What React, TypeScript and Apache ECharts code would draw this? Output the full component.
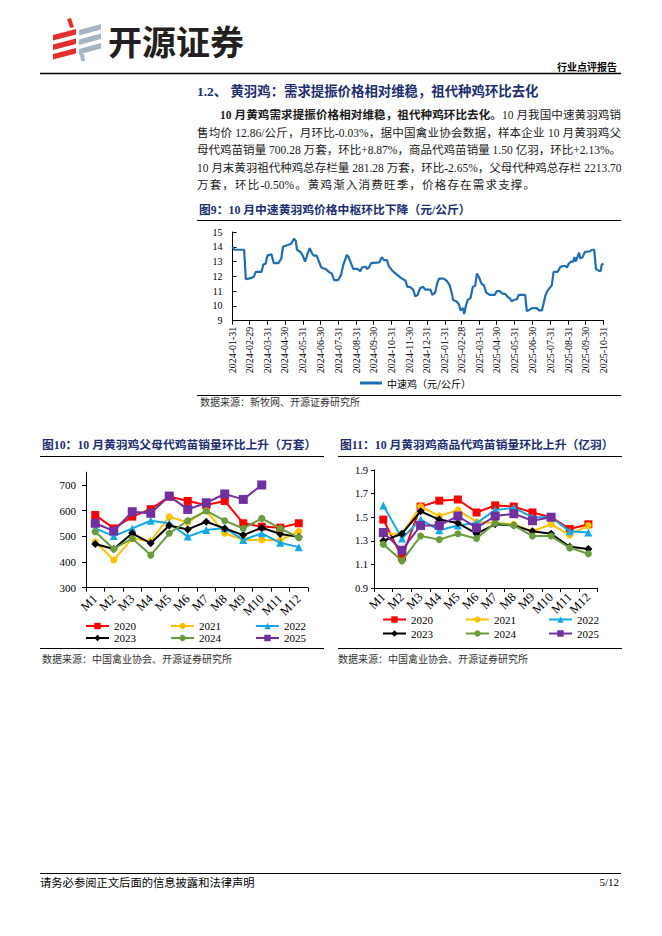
import React, { useEffect, useRef } from "react";
import * as echarts from "echarts";

// ---------- Figure 9: price of medium-speed yellow-feather broiler (元/公斤) ----------
const priceDates = [
  "2024-01-31", "2024-02-03", "2024-02-20", "2024-02-23", "2024-03-04", "2024-03-08", "2024-03-11", "2024-03-21",
  "2024-03-24", "2024-03-28", "2024-03-31", "2024-04-07", "2024-04-11", "2024-04-19", "2024-04-24", "2024-04-27",
  "2024-05-04", "2024-05-11", "2024-05-16", "2024-05-19", "2024-05-21", "2024-05-27", "2024-05-31", "2024-06-04",
  "2024-06-08", "2024-06-12", "2024-06-16", "2024-06-19", "2024-06-24", "2024-06-28", "2024-07-02", "2024-07-09",
  "2024-07-15", "2024-07-20", "2024-07-24", "2024-07-31", "2024-08-05", "2024-08-09", "2024-08-15", "2024-08-18",
  "2024-08-22", "2024-08-26", "2024-09-02", "2024-09-07", "2024-09-10", "2024-09-16", "2024-09-19", "2024-09-22",
  "2024-09-26", "2024-10-10", "2024-10-14", "2024-10-18", "2024-10-23", "2024-10-26", "2024-11-01", "2024-11-05",
  "2024-11-10", "2024-11-16", "2024-11-24", "2024-11-27", "2024-12-03", "2024-12-07", "2024-12-11", "2024-12-15",
  "2024-12-19", "2024-12-24", "2024-12-28", "2025-01-06", "2025-01-09", "2025-01-14", "2025-01-18", "2025-01-21",
  "2025-01-29", "2025-02-03", "2025-02-08", "2025-02-12", "2025-02-14", "2025-02-20", "2025-02-24", "2025-02-27",
  "2025-03-03", "2025-03-05", "2025-03-08", "2025-03-11", "2025-03-16", "2025-03-20", "2025-03-24", "2025-03-27",
  "2025-03-31", "2025-04-04", "2025-04-08", "2025-04-12", "2025-04-18", "2025-04-27", "2025-04-30", "2025-05-06",
  "2025-05-09", "2025-05-15", "2025-05-19", "2025-05-23", "2025-05-26", "2025-05-29", "2025-06-04", "2025-06-07",
  "2025-06-18", "2025-06-21", "2025-06-24", "2025-06-30", "2025-07-08", "2025-07-12", "2025-07-17", "2025-07-20",
  "2025-07-23", "2025-07-26", "2025-07-30", "2025-08-03", "2025-08-06", "2025-08-13", "2025-08-17", "2025-08-21",
  "2025-08-26", "2025-08-29", "2025-09-01", "2025-09-05", "2025-09-09", "2025-09-11", "2025-09-13", "2025-09-17",
  "2025-09-19", "2025-09-21", "2025-09-25", "2025-09-29", "2025-10-08", "2025-10-11", "2025-10-15", "2025-10-18",
  "2025-10-22", "2025-10-26", "2025-10-28", "2025-10-31",
];
const priceValues = [
  14.0, 13.8, 13.8, 11.8, 11.9, 12.0, 12.3, 12.3,
  12.8, 12.85, 13.4, 13.5, 12.9, 12.9, 13.2, 14.0,
  14.1, 14.2, 14.55, 14.4, 13.8, 13.65, 13.4, 13.0,
  13.5, 13.9, 13.55, 13.4, 13.4, 13.0, 12.6, 12.5,
  12.3, 12.2, 11.75, 11.75, 12.1, 12.8, 13.45, 13.3,
  12.9, 12.5, 12.5, 12.35, 12.6, 12.65, 12.5, 12.6,
  12.9, 12.95, 13.3, 13.1, 13.1, 12.7, 12.4, 12.25,
  12.1, 11.9, 11.7, 11.3, 11.25, 11.1, 10.65, 10.75,
  11.2, 11.3, 11.1, 11.1, 10.75, 10.9, 11.6, 11.85,
  11.85, 11.7, 11.4, 10.8, 10.4, 10.3, 10.1, 9.7,
  9.85, 9.45, 10.0, 10.4, 10.55, 11.3, 11.35, 12.2,
  11.9, 11.5, 11.4, 10.9, 10.75, 10.75, 11.0, 11.0,
  10.85, 10.8, 10.6, 10.5, 10.3, 10.4, 10.45, 10.75,
  10.75, 9.65, 9.7, 9.85, 9.85, 9.7, 9.7, 10.2,
  10.7, 11.0, 11.2, 11.4, 12.3, 12.3, 12.6, 12.7,
  12.7, 12.6, 12.85, 13.0, 13.0, 13.3, 13.0, 13.4,
  13.6, 13.2, 13.3, 13.65, 13.7, 13.8, 13.8, 12.5,
  12.4, 12.35, 12.8, 12.86,
];
const priceTickDates = [
  "2024-01-31", "2024-02-29", "2024-03-31", "2024-04-30", "2024-05-31", "2024-06-30", "2024-07-31", "2024-08-31",
  "2024-09-30", "2024-10-31", "2024-11-30", "2024-12-31", "2025-01-31", "2025-02-28", "2025-03-31", "2025-04-30",
  "2025-05-31", "2025-06-30", "2025-07-31", "2025-08-31", "2025-09-30", "2025-10-31",
];
const priceSeriesName = "中速鸡（元/公斤）";
const priceYTicks = [9, 10, 11, 12, 13, 14, 15];

// ---------- Figures 10 & 11 ----------
const months = ["M1", "M2", "M3", "M4", "M5", "M6", "M7", "M8", "M9", "M10", "M11", "M12"];
const yearNames = ["2020", "2021", "2022", "2023", "2024", "2025"];

// 父母代鸡苗销量（万套）
const parent2020 = [583, 531, 577, 606, 655, 638, 622, 638, 551, 538, 534, 551];
const parent2021 = [479, 408, 492, 482, 576, 555, 600, 512, 487, 486, 484, 519];
const parent2022 = [531, 501, 531, 561, 551, 499, 525, 533, 486, 512, 475, 458];
const parent2023 = [470, 451, 512, 473, 542, 527, 557, 531, 505, 534, 509, 498];
const parent2024 = [518, 451, 492, 427, 512, 561, 599, 561, 531, 570, 531, 495];
const parent2025 = [551, 521, 596, 590, 657, 605, 631, 665, 644, 700.28];
const parentYTicks = [300, 400, 500, 600, 700];

// 商品代鸡苗销量（亿羽）
const comm2020 = [1.48, 1.16, 1.59, 1.64, 1.65, 1.54, 1.6, 1.59, 1.54, 1.5, 1.4, 1.44];
const comm2021 = [1.36, 1.36, 1.59, 1.51, 1.56, 1.46, 1.45, 1.44, 1.38, 1.44, 1.35, 1.43];
const comm2022 = [1.6, 1.32, 1.48, 1.39, 1.43, 1.45, 1.56, 1.58, 1.5, 1.5, 1.38, 1.37];
const comm2023 = [1.3, 1.36, 1.55, 1.48, 1.45, 1.36, 1.44, 1.43, 1.38, 1.36, 1.25, 1.23];
const comm2024 = [1.27, 1.13, 1.34, 1.31, 1.36, 1.32, 1.45, 1.43, 1.34, 1.34, 1.24, 1.19];
const comm2025 = [1.37, 1.22, 1.43, 1.43, 1.51, 1.41, 1.51, 1.53, 1.47, 1.5];
const commYTicks = [0.9, 1.1, 1.3, 1.5, 1.7, 1.9];

// ---------- Page texts ----------
const logoText = "开源证券";
const reportType = "行业点评报告";
const sectionTitle = "1.2、 黄羽鸡：需求提振价格相对维稳，祖代种鸡环比去化";
const paraBold = "10 月黄鸡需求提振价格相对维稳，祖代种鸡环比去化。";
const paraLines = [
  "10 月我国中速黄羽鸡销",
  "售均价 12.86/公斤，月环比-0.03%，据中国禽业协会数据，样本企业 10 月黄羽鸡父",
  "母代鸡苗销量 700.28 万套，环比+8.87%，商品代鸡苗销量 1.50 亿羽，环比+2.13%。",
  "10 月末黄羽祖代种鸡总存栏量 281.28 万套，环比-2.65%，父母代种鸡总存栏 2213.70",
  "万套，环比-0.50%。黄鸡渐入消费旺季，价格存在需求支撑。",
];
const fig9Title = "图9：10 月中速黄羽鸡价格中枢环比下降（元/公斤）";
const fig10Title = "图10：10 月黄羽鸡父母代鸡苗销量环比上升（万套）";
const fig11Title = "图11：10 月黄羽鸡商品代鸡苗销量环比上升（亿羽）";
const fig9Source = "数据来源：新牧网、开源证券研究所";
const fig1011Source = "数据来源：中国禽业协会、开源证券研究所";
const footerText = "请务必参阅正文后面的信息披露和法律声明";
const pageNo = "5/12";

// ---------- styles ----------
const SERIF = '"Liberation Serif", "Noto Sans CJK SC", serif';
const CJK = '"Noto Sans CJK SC", "Liberation Serif", sans-serif';
const NAVY = "#1d2f72";
const yearColors = ["#ff0000", "#ffc000", "#13a8e6", "#000000", "#6a9c3e", "#7030a0"];
const yearSymbols = ["rect", "circle", "triangle", "diamond", "circle", "rect"];
const yearSymbolSizes = [8, 7, 8, 8, 7, 9];

const pad = (n: number) => (n < 10 ? "0" + n : "" + n);
const parseDay = (s: string) => {
  const [y, m, d] = s.split("-").map(Number);
  return new Date(y, m - 1, d).getTime();
};
const fmtDay = (v: number) => {
  const d = new Date(v);
  return `${d.getFullYear()}-${pad(d.getMonth() + 1)}-${pad(d.getDate())}`;
};

function buildOption() {
  const parentData = [parent2020, parent2021, parent2022, parent2023, parent2024, parent2025];
  const commData = [comm2020, comm2021, comm2022, comm2023, comm2024, comm2025];
  const tickTimes = priceTickDates.map(parseDay);

  const yearSeries = (data: number[][], axis: number) =>
    data.map((d, i) => ({
      type: "line",
      name: yearNames[i],
      xAxisIndex: axis,
      yAxisIndex: axis,
      data: d,
      symbol: yearSymbols[i],
      symbolSize: yearSymbolSizes[i],
      showAllSymbol: true,
      color: yearColors[i],
      lineStyle: { color: yearColors[i], width: 2 },
      itemStyle: { color: yearColors[i] },
      z: 2 + i,
    }));

  const legendRow = (left: number, top: number, names: string[], gap: number) => ({
    left,
    top,
    orient: "horizontal",
    padding: 0,
    itemGap: gap,
    itemWidth: 23,
    itemHeight: 8,
    selectedMode: false,
    data: names,
    textStyle: { fontSize: 11, fontFamily: SERIF, color: "#000" },
  });

  const txt = (x: number, y: number, text: string, size: number, extra: any = {}) => ({
    type: "text",
    x,
    y,
    silent: true,
    style: {
      text,
      fill: extra.fill || "#000",
      fontSize: size,
      fontFamily: extra.family || SERIF,
      fontWeight: extra.weight || "normal",
      align: extra.align || "left",
      verticalAlign: "middle",
    },
  });
  const hline = (x1: number, x2: number, y: number, w = 1, color = "#000") => ({
    type: "line",
    silent: true,
    shape: { x1, y1: y, x2, y2: y },
    style: { stroke: color, lineWidth: w },
  });
  const poly = (points: number[][], fill: string) => ({
    type: "polygon",
    silent: true,
    shape: { points },
    style: { fill },
  });

  const RED = "#e2312d";
  const GRAY = "#a6b5c4";

  const graphic = [
    // logo icon
    poly([[67, 19], [71, 18], [74, 27], [70, 28]], RED),
    poly([[53, 35], [76, 29], [76, 34.5], [53, 40.5]], RED),
    poly([[53, 44.5], [76, 38.5], [76, 44], [53, 50]], RED),
    poly([[53, 54], [76, 48], [76, 53.5], [53, 59.5]], RED),
    poly([[79, 30], [101, 24], [101, 29.5], [79, 35.5]], GRAY),
    poly([[79, 39.5], [101, 33.5], [101, 39], [79, 45]], GRAY),
    poly([[79, 49], [101, 43], [101, 48.5], [79, 54.5]], GRAY),
    poly([[80, 54], [84, 54], [85, 61], [81, 61]], GRAY),
    txt(108, 40, logoText, 34, { family: CJK, weight: "bold", fill: "#231f20" }),
    txt(617, 66, reportType, 10, { family: CJK, weight: "bold", align: "right" }),
    hline(40, 621, 73.5, 1.3),
    // section title
    txt(197, 91.5, sectionTitle, 13.4, { weight: "bold", fill: NAVY }),
    // fig 9
    txt(199, 210, fig9Title, 11.8, { weight: "bold", fill: NAVY }),
    hline(197, 621, 220.5, 1),
    hline(197, 621, 395.5, 1),
    txt(200, 401.5, fig9Source, 10, { family: CJK, fill: "#333" }),
    // fig 10 / 11
    txt(42, 445, fig10Title, 11.8, { weight: "bold", fill: NAVY }),
    hline(40, 324, 456.5, 1),
    txt(340, 445, fig11Title, 11.8, { weight: "bold", fill: NAVY }),
    hline(338, 622, 456.5, 1),
    hline(40, 324, 648.5, 1),
    hline(338, 622, 648.5, 1),
    txt(42, 658.5, fig1011Source, 10, { family: CJK, fill: "#333" }),
    txt(338, 658.5, fig1011Source, 10, { family: CJK, fill: "#333" }),
    // footer
    hline(40, 621, 873.5, 1),
    txt(40, 882, footerText, 11.3, { family: CJK }),
    txt(619, 882, pageNo, 11, { align: "right" }),
  ];

  const axisLineStyle = { show: true, lineStyle: { color: "#000", width: 1 } };

  return {
    animation: false,
    backgroundColor: "#fff",
    textStyle: { fontFamily: SERIF },
    graphic,
    grid: [
      { left: 232.5, top: 232, width: 371, height: 88.7, outerBoundsMode: "none", containLabel: false },
      { left: 86, top: 472.2, width: 222, height: 115.5, outerBoundsMode: "none", containLabel: false },
      { left: 374, top: 470, width: 223.7, height: 118, outerBoundsMode: "none", containLabel: false },
    ],
    legend: [
      {
        left: 360,
        top: 378,
        padding: 0,
        icon: "rect",
        itemWidth: 22,
        itemHeight: 3,
        selectedMode: false,
        data: [priceSeriesName],
        textStyle: { fontSize: 10, fontFamily: CJK, color: "#000" },
      },
      legendRow(85, 620.5, yearNames.slice(0, 3), 34),
      legendRow(85, 632.5, yearNames.slice(3, 6), 34),
      legendRow(382, 614, yearNames.slice(0, 3), 32),
      legendRow(382, 628, yearNames.slice(3, 6), 32),
    ],
    xAxis: [
      {
        type: "value",
        gridIndex: 0,
        min: tickTimes[0],
        max: tickTimes[tickTimes.length - 1],
        axisLine: axisLineStyle,
        axisTick: { show: true, length: 4, customValues: tickTimes, lineStyle: { color: "#000" } },
        splitLine: { show: false },
        axisLabel: {
          customValues: tickTimes,
          rotate: 90,
          margin: 6,
          fontSize: 10,
          fontFamily: SERIF,
          color: "#000",
          formatter: (v: number) => fmtDay(v),
        },
      },
      {
        type: "category",
        gridIndex: 1,
        data: months,
        boundaryGap: true,
        axisLine: axisLineStyle,
        axisTick: { show: true, length: 4, lineStyle: { color: "#000" } },
        axisLabel: { interval: 0, rotate: 45, margin: 9, fontSize: 12.5, fontFamily: SERIF, color: "#000" },
      },
      {
        type: "category",
        gridIndex: 2,
        data: months,
        boundaryGap: true,
        axisLine: axisLineStyle,
        axisTick: { show: true, length: 4, lineStyle: { color: "#000" } },
        axisLabel: { interval: 0, rotate: 45, margin: 7, fontSize: 12.5, fontFamily: SERIF, color: "#000" },
      },
    ],
    yAxis: [
      {
        type: "value",
        gridIndex: 0,
        min: 9,
        max: 15,
        interval: 1,
        axisLine: axisLineStyle,
        axisTick: { show: true, inside: true, length: 4, customValues: priceYTicks, lineStyle: { color: "#000" } },
        splitLine: { show: false },
        axisLabel: { customValues: priceYTicks, margin: 10, fontSize: 10, fontFamily: SERIF, color: "#000" },
      },
      {
        type: "value",
        gridIndex: 1,
        min: 300,
        max: 750,
        axisLine: axisLineStyle,
        axisTick: { show: true, length: 4, customValues: parentYTicks, lineStyle: { color: "#000" } },
        splitLine: { show: false },
        axisLabel: { customValues: parentYTicks, margin: 10, fontSize: 11, fontFamily: SERIF, color: "#000" },
      },
      {
        type: "value",
        gridIndex: 2,
        min: 0.9,
        max: 1.9,
        axisLine: axisLineStyle,
        axisTick: { show: true, length: 3, customValues: commYTicks, lineStyle: { color: "#000" } },
        splitLine: { show: false },
        axisLabel: {
          customValues: commYTicks,
          margin: 6,
          fontSize: 10.5,
          fontFamily: SERIF,
          color: "#000",
          formatter: (v: number) => v.toFixed(1),
        },
      },
    ],
    series: [
      {
        type: "line",
        name: priceSeriesName,
        xAxisIndex: 0,
        yAxisIndex: 0,
        data: priceDates.map((d, i) => [parseDay(d), priceValues[i]]),
        symbol: "none",
        color: "#1f6db3",
        lineStyle: { color: "#1f6db3", width: 2.2 },
      },
      ...yearSeries(parentData, 1),
      ...yearSeries(commData, 2),
    ],
  };
}

const lineStyleBase: React.CSSProperties = {
  position: "absolute",
  height: 18,
  lineHeight: "18px",
  fontSize: 11.5,
  fontFamily: SERIF,
  color: "#1a1a1a",
  whiteSpace: "nowrap",
  textAlign: "justify",
  textAlignLast: "justify",
};

export default function App() {
  const ref = useRef<HTMLDivElement>(null);
  useEffect(() => {
    if (!ref.current) return;
    const chart = echarts.init(ref.current, undefined, { renderer: "svg", width: 662, height: 936 });
    chart.setOption(buildOption() as any);
    return () => chart.dispose();
  }, []);

  const centers = [115, 132.5, 150, 167.5, 185];
  const lefts = [220, 197, 197, 197, 197];
  const widths = [401, 424, 424, 424, 338];
  return (
    <div style={{ position: "absolute", left: 0, top: 0, width: 662, height: 936, background: "#fff", overflow: "hidden" }}>
      <div ref={ref} style={{ position: "absolute", left: 0, top: 0, width: 662, height: 936 }} />
      {paraLines.map((line, i) => (
        <div
          key={i}
          style={{
            ...lineStyleBase,
            top: centers[i] - 9,
            left: lefts[i],
            width: widths[i],
          }}
        >
          {i === 0 ? <b>{paraBold}</b> : null}
          {line}
        </div>
      ))}
    </div>
  );
}
